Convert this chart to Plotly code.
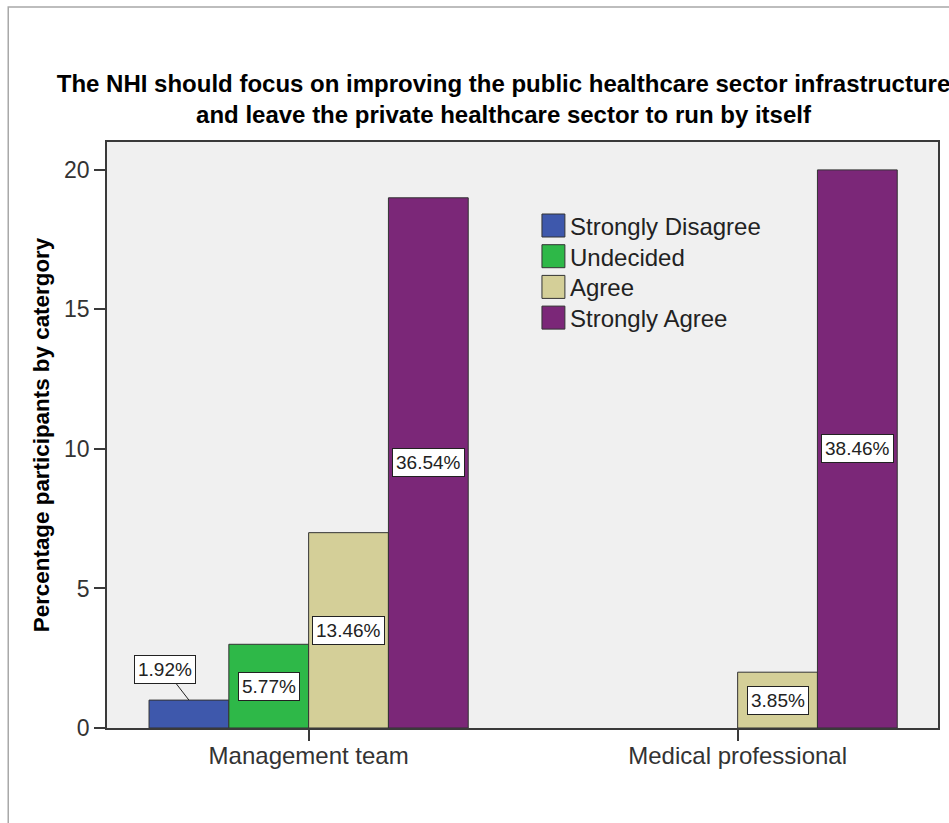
import plotly.graph_objects as go

# ---- data ----
categories = ["Management team", "Medical professional"]
series_names = ["Strongly Disagree", "Undecided", "Agree", "Strongly Agree"]
strongly_disagree = [1, None]
undecided = [3, None]
agree = [7, 2]
strongly_agree = [19, 20]
strongly_disagree_pct = ["1.92%", None]
undecided_pct = ["5.77%", None]
agree_pct = ["13.46%", "3.85%"]
strongly_agree_pct = ["36.54%", "38.46%"]
y_ticks = [0, 5, 10, 15, 20]

title_text = ("The NHI should focus on improving the public healthcare sector infrastructure"
              "<br>and leave the private healthcare sector to run by itself")
y_title = "Percentage participants by catergory"

series_values = [strongly_disagree, undecided, agree, strongly_agree]
series_pcts = [strongly_disagree_pct, undecided_pct, agree_pct, strongly_agree_pct]
colors = ["#3E58AC", "#2EB848", "#D4CF98", "#7B2778"]

# ---- layout geometry ----
W, H = 949, 823
L, R, T, B = 107, 9, 142, 95
pw = W - L - R
ph = H - T - B


def px(xp):
    return (xp - L) / pw


def py(yp):
    return (H - B - yp) / ph


FONT = "Liberation Sans, Arial, sans-serif"
bargap = 0.256
n = len(series_names)
bw = (1 - bargap) / n
offsets = [-(1 - bargap) / 2 + bw * (i + 0.5) for i in range(n)]

fig = go.Figure()
for i, name in enumerate(series_names):
    fig.add_trace(go.Bar(
        x=categories, y=series_values[i], name=name,
        marker=dict(color=colors[i], line=dict(color="#333333", width=1)),
        showlegend=False,
    ))

annotations = []
# value labels
for i in range(n):
    for ci, cat in enumerate(categories):
        v = series_values[i][ci]
        lab = series_pcts[i][ci]
        if v is None or lab is None:
            continue
        xpos = ci + offsets[i]
        common = dict(text=lab, xref="x", yref="y", bgcolor="white",
                      bordercolor="#222222", borderwidth=1, borderpad=3,
                      font=dict(family=FONT, size=19, color="#222222"))
        if v < 1.5:
            annotations.append(dict(x=xpos, y=v, showarrow=True, arrowhead=0,
                                    arrowwidth=1, arrowcolor="#222222",
                                    ax=-24, ay=-31, standoff=0, **common))
        else:
            annotations.append(dict(x=xpos, y=v / 2, showarrow=False,
                                    xanchor="center", yanchor="middle", **common))

# custom legend
shapes = []
legend_top = 225.5
pitch = 30.7
for i, name in enumerate(series_names):
    yc = legend_top + pitch * i
    shapes.append(dict(type="rect", xref="paper", yref="paper",
                       x0=px(543), x1=px(566), y0=py(yc + 11.5), y1=py(yc - 11.5),
                       fillcolor=colors[i], line=dict(color="#333333", width=1)))
    annotations.append(dict(text=name, xref="paper", yref="paper",
                            x=px(569), y=py(yc + 1), xanchor="left", yanchor="middle",
                            showarrow=False,
                            font=dict(family=FONT, size=24, color="#222222")))

# outer frame
shapes.append(dict(type="rect", xref="paper", yref="paper", layer="below",
                   x0=px(8), x1=px(980), y0=py(850), y1=py(7),
                   line=dict(color="#a8a8a8", width=1.5), fillcolor="rgba(0,0,0,0)"))

fig.update_layout(
    width=W, height=H,
    margin=dict(l=L, r=R, t=T, b=B),
    paper_bgcolor="white",
    plot_bgcolor="#F0F0F0",
    barmode="group",
    bargap=bargap,
    bargroupgap=0,
    showlegend=False,
    title=dict(text="<b>" + title_text + "</b>", x=503.5 / W, xanchor="center",
               xref="container", yref="container", y=1 - 92 / H, yanchor="top",
               font=dict(family=FONT, size=24, color="black")),
    annotations=annotations,
    shapes=shapes,
    font=dict(family=FONT),
)
fig.update_xaxes(
    type="category", range=[-0.470, 1.467],
    showline=True, mirror=True, linecolor="#3a3a3a", linewidth=1.5,
    ticks="outside", ticklen=11, tickcolor="#3a3a3a", tickwidth=1.5,
    ticklabelstandoff=-6,
    showgrid=False, zeroline=False,
    tickfont=dict(family=FONT, size=24, color="#333333"),
)
fig.update_yaxes(
    range=[0, 21], tickvals=y_ticks, ticktext=[str(t) for t in y_ticks],
    showline=True, mirror=True, linecolor="#3a3a3a", linewidth=1.5,
    ticks="outside", ticklen=11, tickcolor="#3a3a3a", tickwidth=1.5,
    showgrid=False, zeroline=False,
    tickfont=dict(family=FONT, size=23, color="#333333"),
    title=dict(text="<b>" + y_title + "</b>", standoff=8,
               font=dict(family=FONT, size=22.4, color="black")),
)

fig.write_html("out.html", config={"displayModeBar": False},
               post_script="document.body.style.margin='0';document.body.style.padding='0';")
